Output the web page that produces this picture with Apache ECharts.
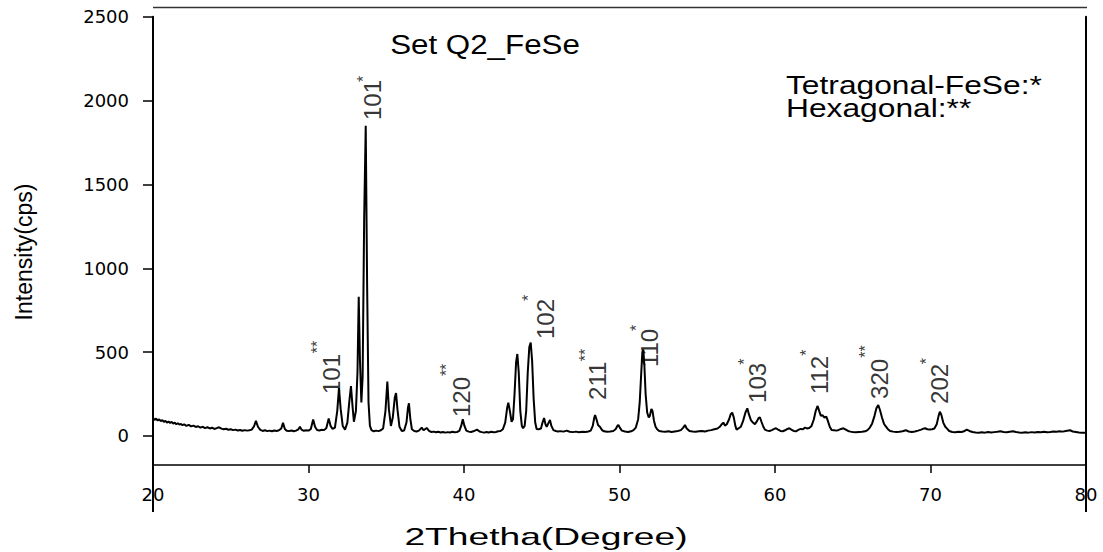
<!DOCTYPE html>
<html>
<head>
<meta charset="utf-8">
<script src="https://cdn.jsdelivr.net/npm/echarts@6/dist/echarts.min.js"></script>
<style>
  html, body { margin: 0; padding: 0; background: #fff; }
  #chart { width: 1103px; height: 552px; }
</style>
</head>
<body>
<div id="chart"></div>
<script>
// Powder XRD scan of sample Q2 (FeSe): [2θ in degrees, intensity in cps]
const scan = [
  [20.00,108],[20.10,96],[20.20,104],[20.30,92],[20.40,99],[20.50,88],[20.60,95],[20.70,84],[20.80,90],[20.90,80],
  [21.00,86],[21.10,78],[21.20,84],[21.30,74],[21.40,80],[21.50,70],[21.60,76],[21.70,68],[21.80,72],[21.90,64],
  [22.00,70],[22.15,60],[22.30,66],[22.45,57],[22.60,62],[22.75,54],[22.90,58],[23.05,50],[23.20,55],[23.35,47],
  [23.50,52],[23.65,45],[23.80,49],[23.95,42],[24.10,47],[24.25,52],[24.40,44],[24.55,40],[24.70,43],[24.85,37],
  [25.00,40],[25.15,35],[25.30,38],[25.45,33],[25.60,36],[25.75,31],[25.90,35],[26.05,32],[26.20,34],[26.35,38],
  [26.50,58],[26.62,90],[26.75,55],[26.90,36],[27.05,30],[27.20,34],[27.35,29],[27.50,32],[27.65,28],[27.80,33],
  [27.95,30],[28.10,34],[28.25,45],[28.36,78],[28.48,42],[28.60,31],[28.75,29],[28.90,33],[29.05,28],[29.20,32],
  [29.35,40],[29.45,55],[29.55,38],[29.70,31],[29.85,34],[30.00,32],[30.15,42],[30.30,98],[30.42,55],[30.55,36],
  [30.70,33],[30.85,37],[31.00,35],[31.15,48],[31.30,105],[31.42,60],[31.55,42],[31.70,50],[31.85,150],[31.96,285],
  [32.07,160],[32.20,60],[32.35,38],[32.50,80],[32.62,200],[32.73,298],[32.83,180],[32.92,85],[33.05,150],[33.15,380],
  [33.23,830],[33.31,450],[33.40,200],[33.48,350],[33.58,1300],[33.68,1850],[33.77,900],[33.86,200],[33.95,60],[34.05,35],
  [34.20,28],[34.35,32],[34.50,29],[34.65,34],[34.80,45],[34.95,150],[35.07,324],[35.17,160],[35.30,60],[35.42,110],
  [35.55,230],[35.63,256],[35.72,160],[35.85,55],[36.00,30],[36.15,33],[36.30,80],[36.40,170],[36.46,195],[36.55,100],
  [36.65,40],[36.80,30],[36.95,27],[37.10,32],[37.28,50],[37.40,34],[37.60,48],[37.75,30],[37.90,24],[38.05,26],
  [38.20,22],[38.35,25],[38.50,21],[38.65,24],[38.80,20],[38.95,23],[39.10,21],[39.25,25],[39.40,22],[39.55,24],
  [39.70,30],[39.82,60],[39.92,100],[40.03,60],[40.15,32],[40.30,26],[40.45,24],[40.60,28],[40.84,38],[41.00,27],
  [41.15,23],[41.30,20],[41.45,24],[41.60,21],[41.75,25],[41.90,22],[42.05,24],[42.20,28],[42.35,30],[42.50,40],
  [42.65,80],[42.78,170],[42.85,199],[42.95,150],[43.06,85],[43.15,100],[43.25,250],[43.35,440],[43.43,489],[43.52,380],
  [43.62,150],[43.72,60],[43.80,46],[43.90,60],[44.00,150],[44.10,380],[44.20,530],[44.29,557],[44.38,450],[44.48,220],
  [44.58,80],[44.67,42],[44.80,40],[44.95,45],[45.05,80],[45.15,107],[45.24,70],[45.32,54],[45.42,75],[45.53,95],
  [45.62,60],[45.75,35],[45.90,30],[46.05,27],[46.20,29],[46.40,26],[46.60,32],[46.80,25],[47.00,23],[47.20,26],
  [47.40,22],[47.60,25],[47.80,24],[48.00,27],[48.15,32],[48.28,60],[48.38,110],[48.43,125],[48.52,100],[48.62,65],
  [48.75,54],[48.88,35],[49.00,28],[49.20,25],[49.40,27],[49.60,30],[49.75,40],[49.88,62],[49.93,66],[50.02,50],
  [50.15,32],[50.35,27],[50.55,24],[50.75,28],[50.90,35],[51.05,50],[51.20,100],[51.30,200],[51.40,380],[51.47,500],
  [51.53,515],[51.60,420],[51.68,250],[51.78,140],[51.88,110],[51.95,120],[52.05,161],[52.12,150],[52.22,90],[52.32,55],
  [52.42,40],[52.55,30],[52.75,27],[52.95,25],[53.15,28],[53.35,24],[53.55,27],[53.75,30],[53.95,35],[54.10,50],
  [54.21,66],[54.32,45],[54.50,30],[54.70,27],[54.90,25],[55.10,28],[55.30,30],[55.50,27],[55.70,32],[55.90,35],
  [56.10,40],[56.30,45],[56.45,55],[56.58,70],[56.68,80],[56.78,62],[56.90,70],[57.05,100],[57.15,130],[57.25,139],
  [57.35,110],[57.45,60],[57.53,38],[57.65,45],[57.80,55],[57.95,90],[58.10,140],[58.22,165],[58.32,130],[58.45,95],
  [58.58,80],[58.71,70],[58.85,90],[58.95,108],[59.03,111],[59.13,85],[59.25,55],[59.35,38],[59.50,32],[59.65,30],
  [59.80,35],[59.95,42],[60.06,46],[60.20,38],[60.35,30],[60.50,28],[60.65,34],[60.80,42],[60.92,46],[61.05,38],
  [61.20,30],[61.35,28],[61.50,36],[61.65,42],[61.80,40],[61.93,50],[62.05,45],[62.20,48],[62.35,60],[62.50,100],
  [62.62,150],[62.74,179],[62.84,150],[62.95,120],[63.05,125],[63.18,110],[63.30,115],[63.40,90],[63.52,55],[63.64,36],
  [63.80,34],[63.95,32],[64.10,36],[64.25,42],[64.40,46],[64.55,38],[64.70,30],[64.85,26],[65.00,24],[65.20,22],
  [65.40,24],[65.60,25],[65.80,28],[65.95,35],[66.10,50],[66.25,75],[66.40,120],[66.52,165],[66.64,185],[66.75,155],
  [66.88,110],[67.00,75],[67.10,60],[67.25,42],[67.40,30],[67.60,26],[67.80,24],[68.00,25],[68.20,28],[68.42,34],
  [68.60,27],[68.80,24],[69.00,27],[69.20,32],[69.40,38],[69.55,44],[69.65,46],[69.80,40],[69.95,38],[70.10,40],
  [70.25,45],[70.40,70],[70.52,120],[70.60,145],[70.70,125],[70.82,80],[70.95,55],[71.05,45],[71.20,30],[71.40,24],
  [71.60,22],[71.80,25],[72.00,24],[72.15,28],[72.33,38],[72.50,30],[72.70,24],[72.90,21],[73.10,19],[73.30,22],
  [73.50,20],[73.70,24],[73.90,21],[74.10,23],[74.30,25],[74.50,28],[74.70,24],[74.90,22],[75.10,25],[75.30,28],
  [75.50,24],[75.70,21],[75.90,19],[76.10,22],[76.30,20],[76.50,23],[76.70,21],[76.90,24],[77.10,22],[77.30,25],
  [77.50,22],[77.70,24],[77.90,27],[78.10,25],[78.30,28],[78.50,26],[78.70,30],[78.97,34],[79.15,27],[79.35,24],
  [79.55,21],[79.75,20],[80.00,19]
];

// Reflection indices (hkl) and phase markers: * tetragonal FeSe, ** hexagonal
const peakIndices = ['101', '101', '120', '102', '211', '110', '103', '112', '320', '202'];
const peakPhase   = ['**',  '*',   '**',  '*',   '**',  '*',   '*',   '*',   '**',  '*'];
// Where each index label starts (2θ, cps) and where its phase marker sits
const indexAnchors = [[31.48,250],[34.12,1884],[39.81,113],[45.24,578],[48.59,215],
                      [51.96,411],[58.87,197],[62.89,250],[66.69,221],[70.61,191]];
const phaseAnchors = [[30.58,531],[33.54,2129],[38.90,394],[44.15,823],[47.80,483],
                      [51.12,644],[58.02,443],[62.01,497],[65.80,503],[69.77,447]];

const yTickValues = [0, 500, 1000, 1500, 2000, 2500];
const xRange = [20, 80];
const yRange = [-173, 2500];

const FONT = 'Liberation Sans, Arial, sans-serif';
const TICK_FONT = 'DejaVu Sans, sans-serif';

const chart = echarts.init(document.getElementById('chart'), null, { renderer: 'svg' });

const indexData = indexAnchors.map((p, i) => ({ value: p, name: peakIndices[i] }));
const phaseData = phaseAnchors.map((p, i) => ({ value: p, name: peakPhase[i] }));

const textStyle = (size, align) => ({
  fontSize: size, fontFamily: FONT, fill: '#000',
  textAlign: align, textVerticalAlign: 'middle', align: align, verticalAlign: 'middle'
});

chart.setOption({
  animation: false,
  backgroundColor: '#fff',
  grid: { left: 153, right: 17, top: 16.7, bottom: 87 },
  xAxis: {
    type: 'value', min: xRange[0], max: xRange[1], interval: 10,
    axisLine: { onZero: false, lineStyle: { color: '#000', width: 1.5 } },
    axisTick: { inside: false, length: 8, lineStyle: { color: '#000', width: 1.5 } },
    axisLabel: { margin: 20, color: '#000', fontSize: 18, fontFamily: TICK_FONT,
                 showMinLabel: true, showMaxLabel: true, formatter: v => String(v) },
    splitLine: { show: false }
  },
  yAxis: [{
    type: 'value', min: yRange[0], max: yRange[1],
    axisLine: { show: true, onZero: false, lineStyle: { color: '#000', width: 2 } },
    axisTick: { show: true, inside: false, length: 10, customValues: yTickValues,
                lineStyle: { color: '#000', width: 1.5 } },
    axisLabel: { margin: 24, color: '#000', fontSize: 18, fontFamily: TICK_FONT,
                 customValues: yTickValues, formatter: v => String(v) },
    splitLine: { show: false }
  }, {
    type: 'value', min: yRange[0], max: yRange[1], position: 'right',
    axisLine: { show: true, onZero: false, lineStyle: { color: '#000', width: 2 } },
    axisTick: { show: false }, axisLabel: { show: false }, splitLine: { show: false }
  }],
  series: [{
    type: 'line',
    data: scan,
    showSymbol: false,
    symbol: 'none',
    lineStyle: { color: '#000', width: 2 },
    z: 3
  }, {
    type: 'scatter',
    data: indexData,
    symbolSize: 0,
    silent: true,
    label: {
      show: true, position: 'inside', rotate: 90, align: 'left', verticalAlign: 'middle',
      formatter: p => p.name, color: '#000', fontSize: 24, fontFamily: FONT
    },
    z: 4
  }, {
    type: 'scatter',
    data: phaseData,
    symbolSize: 0,
    silent: true,
    label: {
      show: true, position: 'inside', rotate: 90, align: 'center', verticalAlign: 'middle',
      formatter: p => p.name, color: '#000', fontSize: 16, fontFamily: FONT
    },
    z: 4
  }],
  graphic: [
    // frame pieces outside the plotting area
    { type: 'line', shape: { x1: 153, y1: 7.5, x2: 1087, y2: 7.5 }, style: { stroke: '#333', lineWidth: 1.5 } },
    { type: 'line', shape: { x1: 153, y1: 465, x2: 153, y2: 512 }, style: { stroke: '#000', lineWidth: 2 } },
    { type: 'line', shape: { x1: 1086, y1: 465, x2: 1086, y2: 512 }, style: { stroke: '#000', lineWidth: 2 } },
    // titles
    { type: 'text', x: 485, y: 45, scaleX: 1.16, style: Object.assign({ text: 'Set Q2_FeSe' }, textStyle(27, 'center')) },
    { type: 'text', x: 786, y: 85, scaleX: 1.27, style: Object.assign({ text: 'Tetragonal-FeSe:*' }, textStyle(25, 'left')) },
    { type: 'text', x: 786, y: 108, scaleX: 1.27, style: Object.assign({ text: 'Hexagonal:**' }, textStyle(25, 'left')) },
    { type: 'text', x: 546, y: 537, scaleX: 1.55, style: Object.assign({ text: '2Thetha(Degree)' }, textStyle(24, 'center')) },
    { type: 'text', x: 24, y: 252, rotation: Math.PI / 2, style: Object.assign({ text: 'Intensity(cps)' }, textStyle(23, 'center')) }
  ]
});
</script>
</body>
</html>
